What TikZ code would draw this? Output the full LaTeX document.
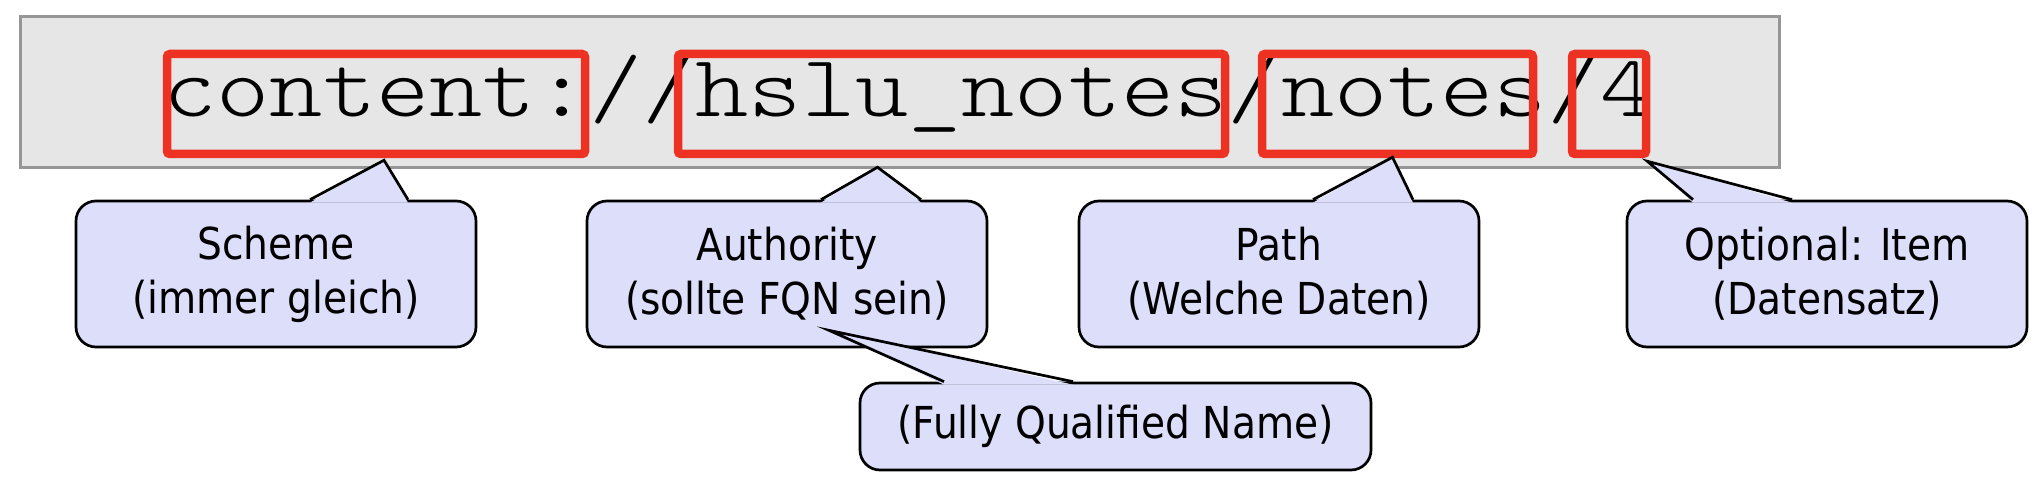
\documentclass[tikz,border=0pt]{standalone}
\usepackage{fontspec}
\setsansfont{DejaVu Sans}[FakeStretch=0.89]
\newfontfamily\cmono{Latin Modern Mono Light}[FakeStretch=1.152]
\usetikzlibrary{calc}
\definecolor{barfill}{RGB}{230,230,230}
\definecolor{barline}{RGB}{150,150,150}
\definecolor{markred}{RGB}{237,50,36}
\definecolor{bubfill}{RGB}{221,222,250}
\tikzset{
  graybar/.style={draw=barline, fill=barfill, line width=1.5pt, inner sep=0pt},
  redbox/.style={draw=markred, line width=4.25pt, rounded corners=1.5pt, inner sep=0pt, minimum height=50pt},
  bubble/.style={draw=black, fill=bubfill, line width=1.35pt, rounded corners=10pt, inner sep=0pt,
    align=center, font=\sffamily\fontsize{22pt}{27pt}\selectfont},
  bigbubble/.style={bubble, minimum width=200pt, minimum height=73pt},
  pointerfill/.style={fill=bubfill},
  pointerline/.style={draw=black, line width=1.35pt},
  urltext/.style={inner sep=0pt, font=\cmono\fontsize{44pt}{44pt}\selectfont}
}
\begin{document}
\begin{tikzpicture}[x=0.5pt,y=-0.5pt]
\useasboundingbox (0,0) rectangle (2042,492);
% grey bar with the URI
\node[graybar, minimum width=879.5pt, minimum height=75.5pt] (bar) at (899.5,92.5) {};
\node[urltext, anchor=base west] (url) at (163,117) {content://hslu\_notes/notes/4};
% red marks
\node[redbox, minimum width=209pt] (r1) at (376,104) {};
\node[redbox, minimum width=273.5pt] (r2) at (951.5,104) {};
\node[redbox, minimum width=135.5pt] (r3) at (1397.5,104) {};
\node[redbox, minimum width=37pt] (r4) at (1609,104) {};
% bubbles
\node[bigbubble] (b1) at (276,274) {Scheme\\(immer gleich)};
\node[bigbubble] (b2) at (787,274) {Authority\\(sollte FQN sein)};
\node[bigbubble] (b3) at (1279,274) {Path\\(Welche Daten)};
\node[bigbubble] (b4) at (1827,274) {Optional: Item\\(Datensatz)};
% pointer points
\path (b1.north) ++(34,0) coordinate (b1L) (b1.north) ++(132,0) coordinate (b1R);
\path (b2.north) ++(34,0) coordinate (b2L) (b2.north) ++(134,0) coordinate (b2R);
\path (b3.north) ++(34,0) coordinate (b3L) (b3.north) ++(134,0) coordinate (b3R);
\path (b4.north) ++(-134,0) coordinate (b4L) (b4.north) ++(-35,0) coordinate (b4R);
\path (r1.south) ++(8,2) coordinate (t1);
\path (r2.south) ++(-74,9) coordinate (t2);
\path (r3.south) ++(-5,-1) coordinate (t3);
\path (r4.south east) ++(-3,3) coordinate (t4);
\foreach \b/\t in {b1/t1,b2/t2,b3/t3,b4/t4}{
  \fill[pointerfill] ($(\b L)+(0,3)$) -- (\t) -- ($(\b R)+(0,3)$) -- cycle;
  \draw[pointerline] (\b L) -- (\t) -- (\b R);
}
% footnote bubble
\node[bubble, minimum width=255.5pt, minimum height=43.5pt] (b5) at (1115.5,426.5) {(Fully Qualified Name)};
\path (b5.north) ++(-171.5,0) coordinate (b5L) (b5.north) ++(-42.5,0) coordinate (b5R);
\path (b2.south) ++(42,-18) coordinate (t5);
\fill[pointerfill] ($(b5L)+(0,3)$) -- (t5) -- ($(b5R)+(0,3)$) -- cycle;
\draw[pointerline] (b5L) -- (t5) -- (b5R);
\end{tikzpicture}
\end{document}
